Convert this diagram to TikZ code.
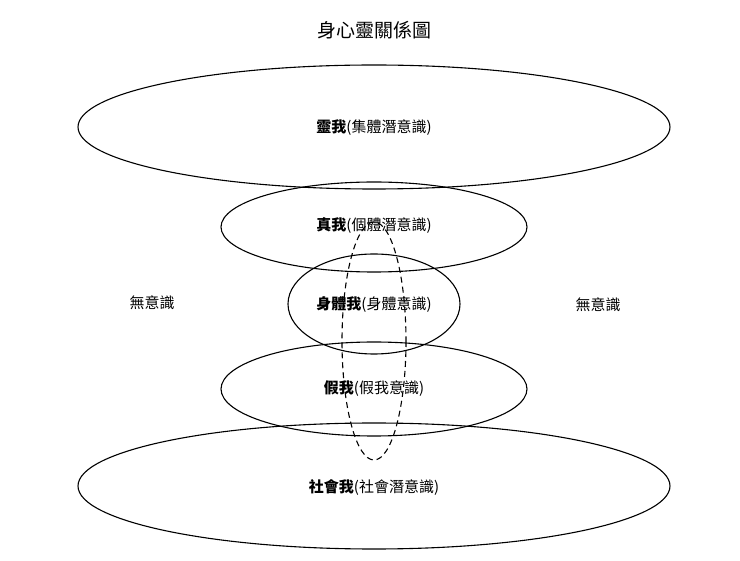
\documentclass[tikz,border=0pt]{standalone}
\usepackage{fontspec}
\setmainfont{Noto Sans CJK TC}
\begin{document}
\begin{tikzpicture}[x=1pt,y=-1pt,
  ell/.style={draw,line width=1.1pt},
  lbl/.style={font=\fontsize{15}{18}\selectfont, inner sep=0pt}]
\useasboundingbox (0,0) rectangle (740,561);
\node[font=\fontsize{19}{22}\selectfont] (title) at (374,30) {身心靈關係圖};
\draw[ell] (374,127) ellipse [x radius=296, y radius=62];
\draw[ell] (374,227) ellipse [x radius=153, y radius=45];
\draw[ell] (374,304) ellipse [x radius=86, y radius=50];
\draw[ell] (374,389) ellipse [x radius=153, y radius=47];
\draw[ell] (374,486) ellipse [x radius=296, y radius=63];
\draw[ell,dash pattern=on 6pt off 4pt] (374,341) ellipse [x radius=32, y radius=119];
\node[lbl] (a) at (374,128) {\textbf{靈我}(集體潛意識)};
\node[lbl] (b) at (374,226) {\textbf{真我}(個體潛意識)};
\node[lbl] (c) at (374,305) {\textbf{身體我}(身體意識)};
\node[lbl] (d) at (374,389) {\textbf{假我}(假我意識)};
\node[lbl] (e) at (374,487) {\textbf{社會我}(社會潛意識)};
\node[lbl] (l) at (152,303) {無意識};
\node[lbl] (r) at (598,305) {無意識};
\end{tikzpicture}
\end{document}
